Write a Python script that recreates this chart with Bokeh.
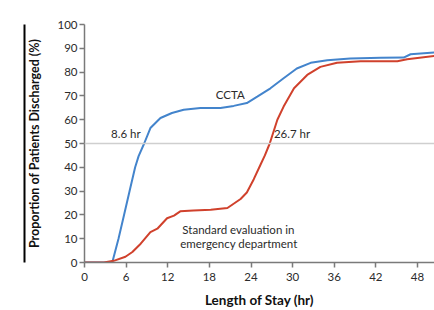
from bokeh.plotting import figure
from bokeh.models import Range1d, Span, Label, FixedTicker, LinearAxis
from bokeh.embed import file_html
from bokeh.resources import INLINE

# Data
ccta_hr = [0, 4.0, 4.9, 5.7, 6.5, 7.3, 7.8, 8.6, 9.5, 10.95, 12.6, 14.3, 16.7, 19.6,
           21.5, 23.4, 24.9, 26.8, 28.7, 30.6, 32.6, 35.0, 38.3, 42.7, 46.0, 47.0, 50.5]
ccta_pct = [0, 0, 10, 20, 30, 40, 44.7, 50, 56.5, 60.7, 62.8, 64.2, 64.9, 64.9,
            65.8, 67.0, 69.7, 73.2, 77.4, 81.5, 83.9, 85.0, 85.7, 86.0, 86.1, 87.5, 88.3]
std_hr = [0, 2.8, 4.2, 5.9, 6.9, 8.1, 9.5, 10.5, 11.9, 12.9, 13.8, 15.7, 18.2, 20.6,
          22.5, 23.4, 24.4, 25.4, 26.0, 26.7, 27.8, 28.7, 30.2, 32.1, 34.0, 36.4, 39.8,
          45.1, 46.5, 50.5]
std_pct = [0, 0, 0.7, 2.4, 4.4, 7.9, 12.8, 14.2, 18.6, 19.7, 21.5, 21.8, 22.2, 22.9,
           26.7, 29.4, 35.0, 41.3, 45.0, 50.0, 60.0, 65.5, 73.2, 78.8, 82.2, 83.9, 84.6,
           84.6, 85.4, 86.8]
x_ticks = [0, 6, 12, 18, 24, 30, 36, 42, 48]
y_ticks = [0, 10, 20, 30, 40, 50, 60, 70, 80, 90, 100]
median_level = 50
ccta_median = 8.6
std_median = 26.7

FONT = "Lato"
TXT = "#2b2b2b"
BLUE = "#4384cc"
RED = "#d0412c"

p = figure(width=434, height=310, output_backend="svg", toolbar_location=None,
           x_range=Range1d(0, 50.45), y_range=Range1d(0, 100),
           min_border_left=84, min_border_right=0, min_border_top=24, min_border_bottom=46)
p.outline_line_color = None
p.grid.visible = False
p.background_fill_color = "white"
p.border_fill_color = "white"

for ax in (p.xaxis[0], p.yaxis[0]):
    ax.axis_line_color = "#7a7a7a"
    ax.axis_line_width = 1.5
    ax.major_tick_line_color = "#7a7a7a"
    ax.major_tick_line_width = 1.5
    ax.major_tick_out = 5
    ax.major_tick_in = 0
    ax.minor_tick_line_color = None
    ax.major_label_text_font = FONT
    ax.major_label_text_font_size = "11.5px"
    ax.major_label_text_color = TXT
    ax.axis_label_text_font = FONT
    ax.axis_label_text_font_style = "bold"
    ax.axis_label_text_color = "#111111"

p.xaxis.ticker = FixedTicker(ticks=x_ticks)
p.yaxis.ticker = FixedTicker(ticks=y_ticks)
p.xaxis.axis_label = "Length of Stay (hr)"
p.yaxis.axis_label = "Proportion of Patients Discharged (%)"
p.xaxis.axis_label_text_font_size = "13.5px"
p.yaxis.axis_label_text_font_size = "12.5px"
p.xaxis.major_label_standoff = 5
p.yaxis.major_label_standoff = 2
p.xaxis.axis_label_standoff = 8
p.yaxis.axis_label_standoff = 12

p.add_layout(Span(location=median_level, dimension="width", line_color="#cfcfcf", line_width=1.5))

p.line(ccta_hr, ccta_pct, line_color=BLUE, line_width=2)
p.line(std_hr, std_pct, line_color=RED, line_width=2)

def lab(x, y, t, align="center", baseline="middle"):
    p.add_layout(Label(x=x, y=y, text=t, text_font=FONT, text_font_size="11.5px",
                       text_color=TXT, text_align=align, text_baseline=baseline))

lab(ccta_median - 0.5, median_level + 1.5, f"{ccta_median} hr", align="right", baseline="bottom")
lab(std_median + 0.6, median_level + 1.5, f"{std_median} hr", align="left", baseline="bottom")
lab(21.0, 70.5, "CCTA")
lab(14.1, 14.0, "Standard evaluation in", align="left")
lab(13.8, 7.8, "emergency department", align="left")

# black frame edge of the cropped source page (plain axis line, no ticks/labels)
edge = LinearAxis(ticker=FixedTicker(ticks=[]), axis_line_color="black", axis_line_width=2,
                  major_tick_line_color=None, minor_tick_line_color=None,
                  major_label_text_font_size="0px")
p.add_layout(edge, "left")

open("out.html", "w").write(file_html(p, INLINE))
